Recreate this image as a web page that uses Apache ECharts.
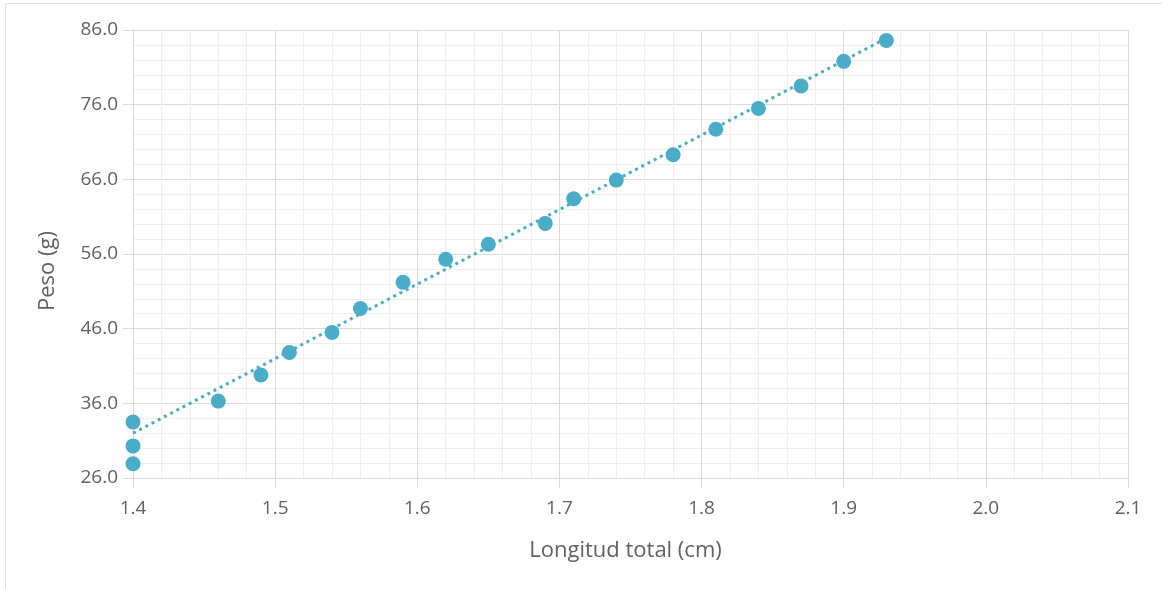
<!DOCTYPE html>
<html>
<head>
<meta charset="utf-8">
<script src="https://cdn.jsdelivr.net/npm/echarts@6/dist/echarts.min.js"></script>
<style>
html,body{margin:0;padding:0;background:#fff;}
#chart{width:1162px;height:589px;}
</style>
</head>
<body>
<div id="chart"></div>
<script>
// Data
var longitud = [1.40, 1.40, 1.40, 1.46, 1.49, 1.51, 1.54, 1.56, 1.59, 1.62, 1.65, 1.69, 1.71, 1.74, 1.78, 1.81, 1.84, 1.87, 1.90, 1.93];
var peso     = [33.5, 30.3, 27.9, 36.3, 39.8, 42.8, 45.5, 48.7, 52.2, 55.3, 57.3, 60.1, 63.4, 65.9, 69.3, 72.7, 75.5, 78.5, 81.8, 84.6];
var trendX = [1.40, 1.93];
var trendY = [32.0, 84.9];
var xTitle = 'Longitud total (cm)';
var yTitle = 'Peso (g)';

var points = longitud.map(function (x, i) { return [x, peso[i]]; });
var trend = trendX.map(function (x, i) { return [x, trendY[i]]; });

var FONT = '"Open Sans", "Noto Sans", sans-serif';
var TXT = '#616161';
var MAJOR = '#dadada';
var MINOR = '#eeeeee';
var DOT = '#4aacc6';

var chart = echarts.init(document.getElementById('chart'), null, {renderer: 'canvas'});
chart.setOption({
  animation: false,
  backgroundColor: '#ffffff',
  graphic: [{
    type: 'rect',
    shape: {x: 5.5, y: 3.5, width: 1300, height: 800},
    style: {fill: 'none', stroke: '#e3e3e3', lineWidth: 1},
    silent: true,
    z: -10
  }],
  grid: {left: 133, right: 34, top: 30, bottom: 111, containLabel: false},
  xAxis: {
    type: 'value',
    min: 1.4, max: 2.1, interval: 0.1,
    name: xTitle,
    nameLocation: 'middle',
    nameGap: 62,
    nameTextStyle: {color: TXT, fontSize: 22, fontFamily: FONT, padding: [0, 10, 0, 0]},
    axisLine: {show: true, lineStyle: {color: MAJOR, width: 1}},
    axisTick: {show: true, length: 10, lineStyle: {color: MAJOR}},
    axisLabel: {color: TXT, fontSize: 19, fontFamily: FONT, margin: 21,
      formatter: function (v) { return v.toFixed(1); }},
    splitLine: {show: true, lineStyle: {color: MAJOR, width: 1}},
    minorTick: {show: false, splitNumber: 5},
    minorSplitLine: {show: true, lineStyle: {color: MINOR, width: 1}}
  },
  yAxis: {
    type: 'value',
    min: 26, max: 86, interval: 10,
    name: yTitle,
    nameLocation: 'middle',
    nameGap: 74,
    nameRotate: 90,
    nameTextStyle: {color: TXT, fontSize: 22, fontFamily: FONT, padding: [0, 34, 0, 0]},
    axisLine: {show: true, lineStyle: {color: MAJOR, width: 1}},
    axisTick: {show: true, length: 10, lineStyle: {color: MAJOR}},
    axisLabel: {color: TXT, fontSize: 19, fontFamily: FONT, margin: 15,
      formatter: function (v) { return v.toFixed(1); }},
    splitLine: {show: true, lineStyle: {color: MAJOR, width: 1}},
    minorTick: {show: false, splitNumber: 5},
    minorSplitLine: {show: true, lineStyle: {color: MINOR, width: 1}}
  },
  series: [{
    type: 'line',
    data: trend,
    symbol: 'none',
    lineStyle: {color: DOT, width: 3, type: [3, 4]},
    z: 2,
    silent: true
  }, {
    type: 'scatter',
    data: points,
    symbol: 'circle',
    symbolSize: 15,
    itemStyle: {color: DOT, opacity: 1},
    z: 3
  }]
});
</script>
</body>
</html>
